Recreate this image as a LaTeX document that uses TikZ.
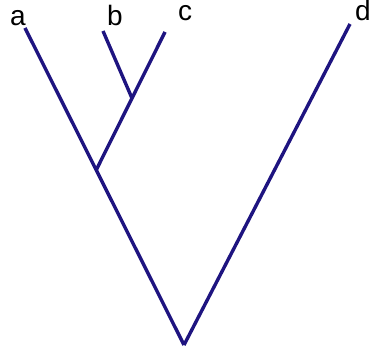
\documentclass[tikz,border=0pt]{standalone}
\usepackage{fontspec}
\setmainfont{Liberation Sans}
\usepackage{xcolor}
\usetikzlibrary{calc}
\definecolor{treeblue}{RGB}{30,20,128}

\begin{document}
\begin{tikzpicture}[x=1pt,y=-1pt,
    branch/.style={line width=3.4pt, treeblue, line cap=butt},
    leaf/.style={anchor=base, inner sep=0pt, font=\fontsize{28}{28}\selectfont}]
  \useasboundingbox (0,0) rectangle (373,352);
  % tips and junctions
  \coordinate (root) at (184,345);
  \coordinate (tipA) at (25,28);
  \coordinate (tipB) at (103,31);
  \coordinate (tipC) at (165,32);
  \coordinate (tipD) at (350,24);
  \coordinate (jABC) at ($(root)!0.552!(tipA)$);
  \coordinate (jBC) at ($(jABC)!0.52!(tipC)$);
  % branches
  \draw[branch] (root) -- (tipA);
  \draw[branch] (root) -- (tipD);
  \draw[branch] (jABC) -- (tipC);
  \draw[branch] (jBC) -- (tipB);
  % leaf labels
  \node[leaf] (labA) at (18,26) {a};
  \node[leaf] (labB) at (115,26) {b};
  \node[leaf] (labC) at (185,21) {c};
  \node[leaf] (labD) at (363,21) {d};
\end{tikzpicture}
\end{document}
